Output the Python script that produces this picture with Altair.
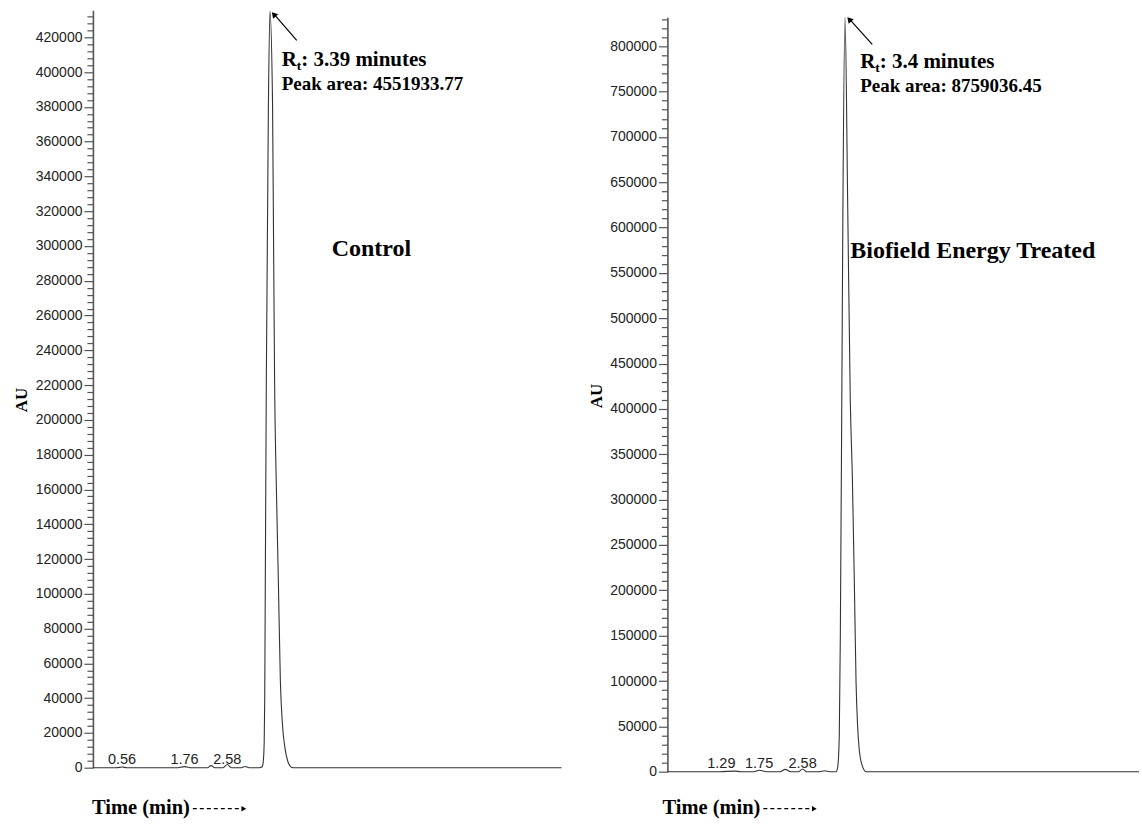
import altair as alt
import pandas as pd

# ---------------- data ----------------
ctrl_time = [0.0, 0.45, 0.56, 0.65, 1.6, 1.76, 1.9, 2.2, 2.27, 2.34, 2.5, 2.58, 2.66,
             2.85, 2.92, 3.0, 3.2, 3.25, 3.27, 3.29, 3.30, 3.31, 3.33, 3.37, 3.40,
             3.45, 3.47, 3.49, 3.52, 3.56, 3.60, 3.64, 3.69, 3.74, 3.79, 3.85, 9.0]
ctrl_au = [0, 0, 400, 0, 0, 600, 0, 0, 1200, 0, 0, 1800, 0,
           0, 700, 0, 0, 500, 3000, 15000, 40000, 100000, 220000, 380000, 435000,
           382000, 300000, 221000, 166000, 110000, 50000, 25000, 11000, 4000, 800, 0, 0]

trt_time = [0.0, 1.0, 1.29, 1.4, 1.65, 1.75, 1.9, 2.15, 2.25, 2.35, 2.5, 2.58, 2.66,
            2.9, 3.0, 3.1, 3.22, 3.25, 3.28, 3.30, 3.33, 3.35, 3.39, 3.44, 3.49,
            3.53, 3.57, 3.60, 3.63, 3.66, 3.71, 3.79, 9.0]
trt_au = [0, 0, 600, 0, 0, 1500, 0, 0, 2500, 0, 0, 3000, 0,
          0, 1000, 0, 0, 5000, 40000, 150000, 430000, 628000, 832000, 628000, 410000,
          323000, 200000, 99000, 50000, 25000, 8000, 0, 0]

ctrl_peak_labels = ["0.56", "1.76", "2.58"]
ctrl_label_pos = [0.56, 1.76, 2.58]
trt_peak_labels = ["1.29", "1.75", "2.58"]
trt_label_pos = [1.03, 1.75, 2.58]

x_ticks = [round(i * 0.2, 1) for i in range(46)]
ctrl_y_ticks = list(range(0, 436000, 4000))
trt_y_ticks = list(range(0, 832000, 10000))

SERIF = "Liberation Serif"
SANS = "Liberation Sans"
AXIS_COLOR = "#555555"
LINE_COLOR = "#333333"


def x_axis():
    return alt.Axis(
        values=x_ticks,
        labelExpr="abs(datum.value - round(datum.value)) < 0.001 ? format(datum.value, 'd') : ''",
        tickSize={"condition": {"test": "abs(datum.value - round(datum.value)) < 0.001", "value": 8}, "value": 5},
        labelOverlap=False, labelFlush=False, grid=False, title=None,
        domainColor=AXIS_COLOR, domainWidth=1.6, tickColor=AXIS_COLOR, tickWidth=1.2,
        labelFont=SANS, labelFontSize=14, labelColor="#222222", labelPadding=2,
    )


def y_axis(ticks, major):
    test = f"datum.value % {major} === 0"
    return alt.Axis(
        values=ticks,
        labelExpr=f"{test} ? format(datum.value, 'd') : ''",
        tickSize={"condition": {"test": test, "value": 9}, "value": 6},
        labelOverlap=False, labelFlush=False, grid=False, title=None,
        domainColor=AXIS_COLOR, domainWidth=1.6, tickColor=AXIS_COLOR, tickWidth=1.2,
        labelFont=SANS, labelFontSize=14, labelColor="#222222", labelPadding=2,
    )


def one():
    return pd.DataFrame({"a": [0]})


def text_at(txt, x, y, size, align="left", baseline="alphabetic", font=SERIF, weight="bold",
            angle=0):
    return alt.Chart(one()).mark_text(
        text=txt, align=align, baseline=baseline, font=font, fontWeight=weight,
        fontSize=size, color="black", angle=angle,
    ).encode(x=alt.value(x), y=alt.value(y))


def panel(times, values, ymax, ticks, major, rng, labels, label_pos, label_y,
          rt_text, area_text, name, name_x, name_y, origin_dx, title_dx, au_x, au_y,
          arrow, width, height):
    xscale = alt.Scale(domain=[0, 9], nice=False, zero=False)
    yscale = alt.Scale(domain=[0, ymax], nice=False, zero=True, range=rng)
    df = pd.DataFrame({"time": times, "au": values})
    line = alt.Chart(df).mark_line(color=LINE_COLOR, strokeWidth=1.1, interpolate="monotone").encode(
        x=alt.X("time:Q", scale=xscale, axis=x_axis()),
        y=alt.Y("au:Q", scale=yscale, axis=y_axis(ticks, major)),
    )
    lab = alt.Chart(pd.DataFrame({"t": label_pos, "lbl": labels})).mark_text(
        font=SANS, fontSize=14.5, color="#222222", baseline="middle", align="center"
    ).encode(
        x=alt.X("t:Q", scale=xscale, axis=None),
        y=alt.value(label_y),
        text="lbl:N",
    )
    (tx, ty, hx, hy) = arrow
    arr_line = alt.Chart(one()).mark_rule(color="black", strokeWidth=1.2).encode(
        x=alt.value(tx), y=alt.value(ty), x2=alt.value(hx + 2), y2=alt.value(hy + 2.5)
    )
    arr_head = alt.Chart(one()).mark_point(shape="triangle-up", filled=True, color="black",
                                           size=45, angle=319, opacity=1).encode(
        x=alt.value(hx + 2), y=alt.value(hy + 3)
    )
    rx, ry = origin_dx
    layers = [
        line, lab, arr_line, arr_head,
        text_at("R", rx, ry, 21),
        text_at("t", rx + 15, ry + 4, 13.5),
        text_at(rt_text, rx + 19.5, ry, 21),
        text_at(area_text, rx, ry + 24, 19),
        text_at(name, name_x, name_y, 24, baseline="middle"),
        text_at("AU", au_x, au_y, 17, align="center", baseline="middle", angle=270),
        text_at("Time (min)", title_dx, 798, 20.5, baseline="middle"),
        alt.Chart(one()).mark_rule(color="black", strokeWidth=1.4, strokeDash=[4, 3]).encode(
            x=alt.value(title_dx + 101), x2=alt.value(title_dx + 150), y=alt.value(799)
        ),
        alt.Chart(one()).mark_point(shape="triangle-right", filled=True, color="black",
                                    size=30, opacity=1).encode(
            x=alt.value(title_dx + 152), y=alt.value(799)
        ),
    ]
    return alt.layer(*layers).properties(width=width, height=height)


left = panel(ctrl_time, ctrl_au, 435500, ctrl_y_ticks, 20000, [758, 0],
             ctrl_peak_labels, ctrl_label_pos, 750,
             ": 3.39 minutes", "Peak area: 4551933.77", "Control", 239, 239,
             (189, 56), -1, -71, 390, (204, 30, 179, 1), 469, 758)

right = panel(trt_time, trt_au, 831900, trt_y_ticks, 50000, [762, 7],
              trt_peak_labels, trt_label_pos, 754,
              ": 3.4 minutes", "Peak area: 8759036.45", "Biofield Energy Treated", 183, 241,
              (193, 58), -5, -70, 386, (205, 34, 180, 6), 472, 762)

chart = alt.hconcat(left, right, spacing=106, bounds="flush").properties(
    padding={"left": 13, "top": 8, "right": 0, "bottom": 5}
).configure_view(stroke=None)

chart.save("out.html", embed_options={"renderer": "svg", "actions": False})
